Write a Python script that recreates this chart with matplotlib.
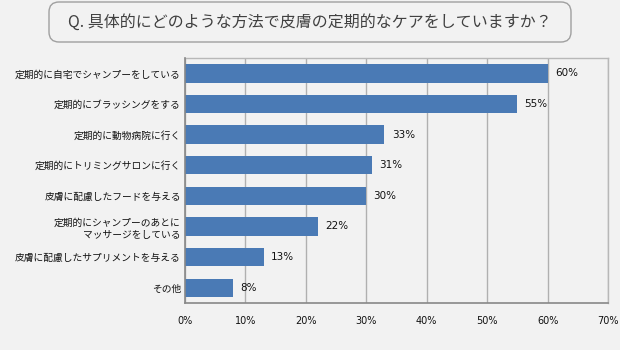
import matplotlib
matplotlib.use("Agg")
import matplotlib.pyplot as plt
from matplotlib.patches import FancyBboxPatch

plt.rcParams['font.family'] = ['Noto Sans CJK JP', 'DejaVu Sans']

title = "Q. 具体的にどのような方法で皮膚の定期的なケアをしていますか？"
categories = [
    "定期的に自宅でシャンプーをしている",
    "定期的にブラッシングをする",
    "定期的に動物病院に行く",
    "定期的にトリミングサロンに行く",
    "皮膚に配慮したフードを与える",
    "定期的にシャンプーのあとに\nマッサージをしている",
    "皮膚に配慮したサプリメントを与える",
    "その他",
]
values = [60, 55, 33, 31, 30, 22, 13, 8]
xticks = [0, 10, 20, 30, 40, 50, 60, 70]

W, H = 620, 350
bg = "#f2f2f2"
fig = plt.figure(figsize=(W / 100, H / 100), dpi=100, facecolor=bg)

left, right, top, bottom = 185, 608, 58, 303
ax = fig.add_axes([left / W, 1 - bottom / H, (right - left) / W, (bottom - top) / H])
ax.set_facecolor(bg)

ypos = list(range(len(categories)))
ax.barh(ypos, values, height=0.6, color="#4a7ab5", zorder=3)
for y, v in zip(ypos, values):
    ax.text(v + 1.2, y, f"{v}%", va="center", ha="left", fontsize=7.5,
            family=['DejaVu Sans'], color="#111111", zorder=4)

ax.set_ylim(len(categories) - 0.5, -0.5)
ax.set_xlim(0, 70)
ax.set_yticks(ypos)
ax.set_yticklabels(categories, fontsize=7, ha="right", linespacing=1.3)
ax.set_xticks(xticks)
ax.set_xticklabels([f"{t}%" for t in xticks], fontsize=7, family=['DejaVu Sans'])
ax.tick_params(axis="both", length=0, colors="#111111")
ax.tick_params(axis="y", pad=3)
ax.tick_params(axis="x", pad=9)
ax.grid(axis="x", color="#b0b0b0", linewidth=1, zorder=1)
for s in ["top", "right"]:
    ax.spines[s].set_color("#b8b8b8")
    ax.spines[s].set_linewidth(1)
for s in ["left", "bottom"]:
    ax.spines[s].set_color("#888888")
    ax.spines[s].set_linewidth(1.2)
ax.spines["left"].set_zorder(5)

# title box
bx0, by0, bx1, by1 = 49, 2, 571, 42
box = FancyBboxPatch((bx0 / W, 1 - by1 / H), (bx1 - bx0) / W, (by1 - by0) / H,
                     boxstyle="round,pad=0,rounding_size=%f" % (10 / W),
                     transform=fig.transFigure, facecolor=bg,
                     edgecolor="#a0a0a0", linewidth=1, mutation_aspect=W / H)
fig.patches.append(box)
fig.text((bx0 + bx1) / 2 / W, 1 - 22 / H, title, ha="center", va="center",
         fontsize=11.5, color="#404040")

fig.savefig("out.png", dpi=100, facecolor=bg)
